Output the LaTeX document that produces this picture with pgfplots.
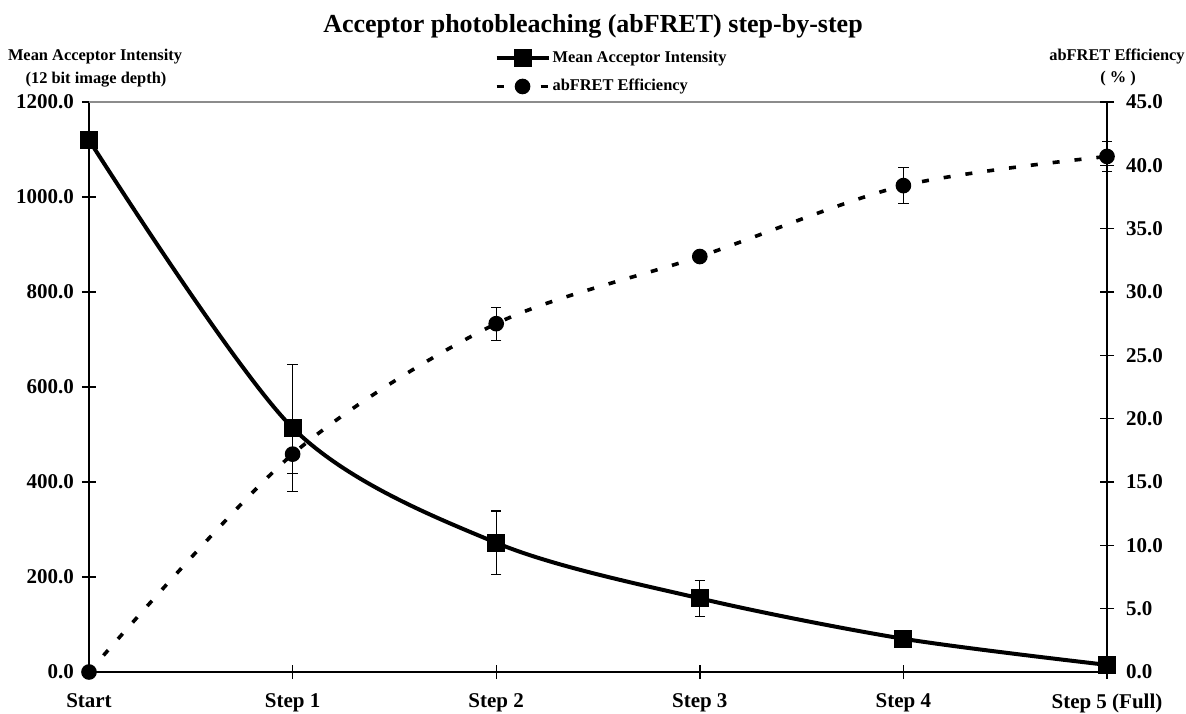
\documentclass[border=0pt]{standalone}
\usepackage{fontspec}
\setmainfont{Liberation Serif}
\usepackage{pgfplots}
\usepackage{pgfplotstable}
\pgfplotsset{compat=1.18}

\pgfplotstableread{
x int interr eff efferr
0 1120 0 0 0
1 514 134 17.2 1.5
2 272 67 27.5 1.3
3 155 38 32.8 0.4
4 70 17 38.4 1.4
5 15 5 40.7 1.2
}\data

\pgfplotsset{
  common/.style={
    scale only axis, width=509pt, height=285pt,
    xmin=0, xmax=5, clip=false,
    tick label style={font=\bfseries\fontsize{10.5}{12}\selectfont},
    /pgf/number format/assume math mode=true,
    tick align=center, major tick length=7pt,
    tick style={black, line width=0.7pt},
    axis line style={black, line width=0.8pt},
    yticklabel style={/pgf/number format/.cd, fixed, fixed zerofill, precision=1, 1000 sep={}},
  },
  ebars/.style={error bars/.cd, y dir=both, y explicit,
    error bar style={line width=0.6pt, solid, black},
    error mark options={rotate=90, line width=0.6pt, mark size=2.6pt, black, solid}},
  intstyle/.style={black, line width=2pt, smooth, mark=square*, mark size=3.5pt, mark options={solid}},
  effstyle/.style={black, line width=1.8pt, smooth, dash pattern=on 3.5pt off 7.5pt, mark=*, mark size=3pt, mark options={solid}},
}

\begin{document}
\begin{tikzpicture}
\useasboundingbox (-44.5pt,-20.5pt) rectangle (548.5pt,336pt);
\begin{axis}[common,
  ymin=0, ymax=1200,
  axis x line*=bottom, axis y line*=left,
  xtick={0,1,2,3,4,5},
  xticklabels={Start,Step 1,Step 2,Step 3,Step 4,Step 5 (Full)},
  xticklabel shift=4pt,
  ytick={0,200,...,1200},
  yticklabel shift=0.5pt,
]
\draw[black!45, line width=1pt] (rel axis cs:0,1) -- (rel axis cs:1,1);
\addplot+[intstyle, ebars] table[x=x, y=int, y error=interr] {\data};
\end{axis}
\begin{axis}[common,
  ymin=0, ymax=45,
  axis x line=none, axis y line*=right,
  ytick={0,5,...,45},
  yticklabel shift=2.5pt,
  legend style={at={(rel axis cs:0.398,1.094)}, anchor=north west, draw=none, fill=none,
    inner sep=0pt, font=\bfseries\fontsize{8.2}{10}\selectfont,
    row sep=5pt, nodes={inner sep=1pt}},
  legend cell align=left,
  legend image code/.code={\draw[mark repeat=2,mark phase=2,#1] plot coordinates {(0pt,0pt) (13pt,0pt) (26pt,0pt)};},
]
\addlegendimage{intstyle}
\addlegendentry{Mean Acceptor Intensity}
\addplot+[effstyle, ebars] table[x=x, y=eff, y error=efferr] {\data};
\addlegendentry{abFRET Efficiency}
\end{axis}
\node[anchor=base, font=\bfseries\fontsize{13}{15}\selectfont] at (252pt,319.5pt) {Acceptor photobleaching (abFRET) step-by-step};
\node[anchor=base, font=\bfseries\fontsize{8.2}{10}\selectfont] at (3pt,305.5pt) {Mean Acceptor Intensity};
\node[anchor=base, font=\bfseries\fontsize{8.2}{10}\selectfont] at (3.5pt,294pt) {(12 bit image depth)};
\node[anchor=base, font=\bfseries\fontsize{8.2}{10}\selectfont] at (514pt,305.5pt) {abFRET Efficiency};
\node[anchor=base, font=\bfseries\fontsize{8.2}{10}\selectfont] at (514.5pt,294.5pt) {( \% )};
\end{tikzpicture}
\end{document}
